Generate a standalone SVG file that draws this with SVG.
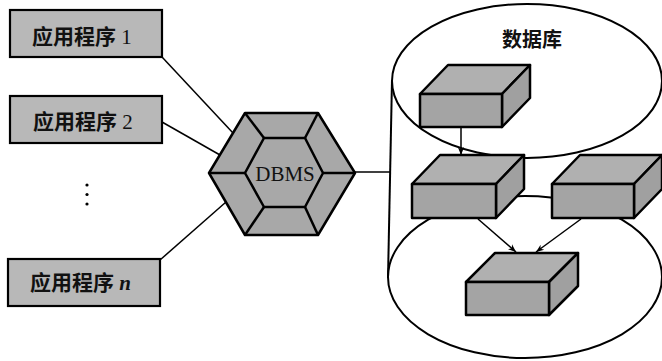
<svg xmlns="http://www.w3.org/2000/svg" width="662" height="361" viewBox="0 0 662 361">
<defs>
<style>
.app{fill:#b8b8b8;stroke:#000;stroke-width:2.2}
.lbl{font-family:"Noto Sans CJK SC","Noto Sans",sans-serif;font-weight:bold;font-size:21px;fill:#111}
.num{font-family:"Liberation Serif",serif;font-weight:normal;font-size:21px}
.numi{font-family:"Liberation Serif",serif;font-weight:bold;font-style:italic;font-size:21px}
.hex{fill:#a8a8a8;stroke:#000;stroke-width:2.5;stroke-linejoin:round}
.ln{fill:none;stroke:#000;stroke-width:1.5}
.cyl{fill:none;stroke:#000;stroke-width:2}
.bf{fill:#a4a4a4;stroke:#000;stroke-width:2.5;stroke-linejoin:round}
.bt{fill:#b0b0b0;stroke:#000;stroke-width:2.5;stroke-linejoin:round}
.bs{fill:#a0a0a0;stroke:#000;stroke-width:2.5;stroke-linejoin:round}
</style>
<marker id="ah" viewBox="0 0 10 10" refX="10" refY="5" markerWidth="8" markerHeight="8" markerUnits="userSpaceOnUse" orient="auto">
<path d="M0,1 L10,5 L0,9 L3,5 Z" fill="#000"/>
</marker>
</defs>
<rect width="662" height="361" fill="#fff"/>

<!-- database cylinder outline -->
<g id="database">
<ellipse class="cyl" cx="527" cy="81" rx="135" ry="77"/>
<ellipse class="cyl" cx="525" cy="277" rx="137" ry="81"/>
<line class="cyl" x1="392" y1="80" x2="388" y2="278"/>
<text x="532" y="47" text-anchor="middle" class="lbl" style="font-size:20px">数据库</text>
</g>

<g id="connectors">
<line class="ln" x1="162" y1="57" x2="233" y2="133"/>
<line class="ln" x1="162" y1="122" x2="220" y2="155"/>
<line class="ln" x1="160" y1="260" x2="226" y2="202"/>
<line class="ln" x1="355" y1="172" x2="390" y2="172"/>
<line class="ln" x1="461" y1="128" x2="461" y2="155" marker-end="url(#ah)"/>
<line class="ln" x1="478" y1="219" x2="516" y2="252" marker-end="url(#ah)"/>
<line class="ln" x1="581" y1="219" x2="536" y2="252" marker-end="url(#ah)"/>
</g>

<g id="app1">
<rect class="app" x="10" y="10" width="152" height="47"/>
<text x="32" y="44" class="lbl">应用程序<tspan class="num"> 1</tspan></text>
</g>
<g id="app2">
<rect class="app" x="10" y="96" width="152" height="47"/>
<text x="33" y="129" class="lbl">应用程序<tspan class="num"> 2</tspan></text>
</g>
<g id="dots">
<circle cx="87" cy="185" r="1.6" fill="#000"/>
<circle cx="87" cy="194.5" r="1.6" fill="#000"/>
<circle cx="87" cy="204" r="1.6" fill="#000"/>
</g>
<g id="appn">
<rect class="app" x="8" y="259" width="152" height="47"/>
<text x="30" y="290" class="lbl">应用程序<tspan class="numi"> n</tspan></text>
</g>

<g id="dbms">
<polygon class="hex" points="209,173 245,113 318,113 355,173 318,235 245,235"/>
<polygon class="hex" points="245,173 264,138 305,138 323,173 305,207 264,207"/>
<line class="hex" x1="245" y1="113" x2="264" y2="138"/>
<line class="hex" x1="318" y1="113" x2="305" y2="138"/>
<line class="hex" x1="209" y1="173" x2="245" y2="173"/>
<line class="hex" x1="355" y1="173" x2="323" y2="173"/>
<line class="hex" x1="245" y1="235" x2="264" y2="207"/>
<line class="hex" x1="318" y1="235" x2="305" y2="207"/>
<text x="285" y="181" text-anchor="middle" style="font-family:'Liberation Serif',serif;font-size:21px;fill:#111">DBMS</text>
</g>

<g id="boxA">
<polygon class="bt" points="420,94 448,65 530,65 502,94"/>
<polygon class="bs" points="502,94 530,65 530,98 502,127"/>
<rect class="bf" x="420" y="94" width="82" height="33"/>
</g>
<g id="boxB">
<polygon class="bt" points="412,184 440,155 524,155 496,184"/>
<polygon class="bs" points="496,184 524,155 524,189 496,218"/>
<rect class="bf" x="412" y="184" width="84" height="34"/>
</g>
<g id="boxC">
<polygon class="bt" points="552,184 580,155 662,155 634,184"/>
<polygon class="bs" points="634,184 662,155 662,189 634,218"/>
<rect class="bf" x="552" y="184" width="82" height="34"/>
</g>
<g id="boxD">
<polygon class="bt" points="466,282 495,253 578,253 549,282"/>
<polygon class="bs" points="549,282 578,253 578,286 549,315"/>
<rect class="bf" x="466" y="282" width="83" height="33"/>
</g>
</svg>
